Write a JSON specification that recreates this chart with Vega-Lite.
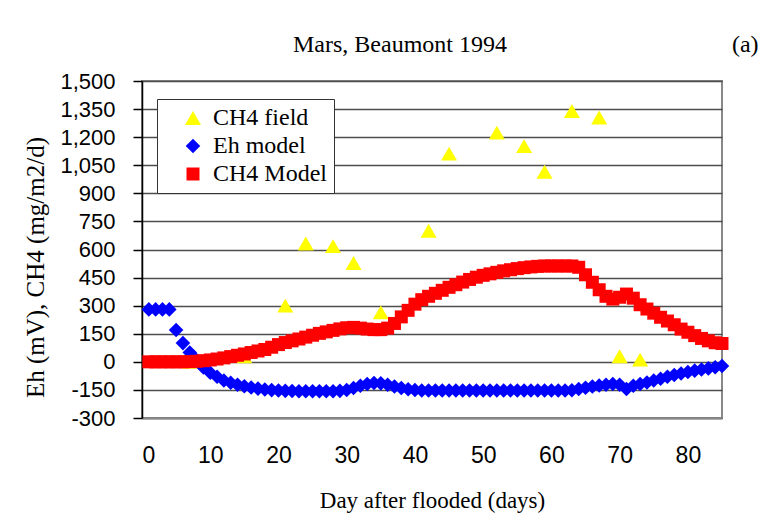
{
  "$schema": "https://vega.github.io/schema/vega-lite/v6.json",
  "width": 580,
  "height": 337,
  "autosize": {"type": "none"},
  "padding": {"left": 142, "top": 81, "right": 61, "bottom": 101},
  "background": "white",
  "title": {"text": "Mars, Beaumont 1994", "font": "Liberation Serif", "fontSize": 24, "fontWeight": "normal", "color": "black", "anchor": "middle", "frame": "group", "dx": -32, "offset": -24},
  "config": {
    "view": {"stroke": "#888888", "strokeWidth": 2},
    "axisX": {
      "grid": false, "ticks": false, "tickSize": 0,
      "labelPadding": 26, "labelFont": "Liberation Sans", "labelFontSize": 23, "labelColor": "black",
      "domainColor": "#888888", "domainWidth": 2,
      "titleFont": "Liberation Serif", "titleFontSize": 23, "titleFontWeight": "normal", "titleColor": "black", "titlePadding": 22
    },
    "axisY": {
      "grid": true, "gridColor": "#4d4d4d", "gridWidth": 1.5,
      "tickSize": 9, "tickColor": "black", "tickWidth": 1.5,
      "domainColor": "black", "domainWidth": 1.5, "labelOverlap": false,
      "labelPadding": 18, "labelFont": "Liberation Sans", "labelFontSize": 22, "labelColor": "black",
      "titleFont": "Liberation Serif", "titleFontSize": 25, "titleFontWeight": "normal", "titleColor": "black", "titlePadding": 11
    }
  },
  "layer": [
    {
      "data": {"values": [
        {"series": "CH4 field", "day": 7, "value": 0},
        {"series": "CH4 field", "day": 15, "value": 30},
        {"series": "CH4 field", "day": 21, "value": 300},
        {"series": "CH4 field", "day": 24, "value": 632},
        {"series": "CH4 field", "day": 28, "value": 618},
        {"series": "CH4 field", "day": 31, "value": 528},
        {"series": "CH4 field", "day": 35, "value": 264},
        {"series": "CH4 field", "day": 42, "value": 700},
        {"series": "CH4 field", "day": 45, "value": 1112},
        {"series": "CH4 field", "day": 52, "value": 1224},
        {"series": "CH4 field", "day": 56, "value": 1152},
        {"series": "CH4 field", "day": 59, "value": 1015},
        {"series": "CH4 field", "day": 63, "value": 1340},
        {"series": "CH4 field", "day": 67, "value": 1305},
        {"series": "CH4 field", "day": 70, "value": 30},
        {"series": "CH4 field", "day": 73, "value": 12},
        {"series": "Eh model", "day": 1, "value": 280},
        {"series": "Eh model", "day": 2, "value": 280},
        {"series": "Eh model", "day": 3, "value": 280},
        {"series": "Eh model", "day": 4, "value": 280},
        {"series": "Eh model", "day": 5, "value": 170},
        {"series": "Eh model", "day": 6, "value": 100},
        {"series": "Eh model", "day": 7, "value": 50},
        {"series": "Eh model", "day": 8, "value": 10},
        {"series": "Eh model", "day": 9, "value": -30},
        {"series": "Eh model", "day": 10, "value": -58},
        {"series": "Eh model", "day": 11, "value": -80},
        {"series": "Eh model", "day": 12, "value": -100},
        {"series": "Eh model", "day": 13, "value": -112},
        {"series": "Eh model", "day": 14, "value": -122},
        {"series": "Eh model", "day": 15, "value": -130},
        {"series": "Eh model", "day": 16, "value": -137},
        {"series": "Eh model", "day": 17, "value": -143},
        {"series": "Eh model", "day": 18, "value": -148},
        {"series": "Eh model", "day": 19, "value": -151},
        {"series": "Eh model", "day": 20, "value": -153},
        {"series": "Eh model", "day": 21, "value": -155},
        {"series": "Eh model", "day": 22, "value": -156},
        {"series": "Eh model", "day": 23, "value": -157},
        {"series": "Eh model", "day": 24, "value": -157},
        {"series": "Eh model", "day": 25, "value": -157},
        {"series": "Eh model", "day": 26, "value": -157},
        {"series": "Eh model", "day": 27, "value": -157},
        {"series": "Eh model", "day": 28, "value": -157},
        {"series": "Eh model", "day": 29, "value": -155},
        {"series": "Eh model", "day": 30, "value": -150},
        {"series": "Eh model", "day": 31, "value": -140},
        {"series": "Eh model", "day": 32, "value": -128},
        {"series": "Eh model", "day": 33, "value": -118},
        {"series": "Eh model", "day": 34, "value": -113},
        {"series": "Eh model", "day": 35, "value": -115},
        {"series": "Eh model", "day": 36, "value": -122},
        {"series": "Eh model", "day": 37, "value": -132},
        {"series": "Eh model", "day": 38, "value": -140},
        {"series": "Eh model", "day": 39, "value": -146},
        {"series": "Eh model", "day": 40, "value": -150},
        {"series": "Eh model", "day": 41, "value": -153},
        {"series": "Eh model", "day": 42, "value": -153},
        {"series": "Eh model", "day": 43, "value": -153},
        {"series": "Eh model", "day": 44, "value": -153},
        {"series": "Eh model", "day": 45, "value": -153},
        {"series": "Eh model", "day": 46, "value": -153},
        {"series": "Eh model", "day": 47, "value": -153},
        {"series": "Eh model", "day": 48, "value": -153},
        {"series": "Eh model", "day": 49, "value": -153},
        {"series": "Eh model", "day": 50, "value": -153},
        {"series": "Eh model", "day": 51, "value": -153},
        {"series": "Eh model", "day": 52, "value": -153},
        {"series": "Eh model", "day": 53, "value": -153},
        {"series": "Eh model", "day": 54, "value": -153},
        {"series": "Eh model", "day": 55, "value": -153},
        {"series": "Eh model", "day": 56, "value": -153},
        {"series": "Eh model", "day": 57, "value": -153},
        {"series": "Eh model", "day": 58, "value": -153},
        {"series": "Eh model", "day": 59, "value": -153},
        {"series": "Eh model", "day": 60, "value": -153},
        {"series": "Eh model", "day": 61, "value": -153},
        {"series": "Eh model", "day": 62, "value": -153},
        {"series": "Eh model", "day": 63, "value": -152},
        {"series": "Eh model", "day": 64, "value": -145},
        {"series": "Eh model", "day": 65, "value": -138},
        {"series": "Eh model", "day": 66, "value": -132},
        {"series": "Eh model", "day": 67, "value": -126},
        {"series": "Eh model", "day": 68, "value": -122},
        {"series": "Eh model", "day": 69, "value": -118},
        {"series": "Eh model", "day": 70, "value": -122},
        {"series": "Eh model", "day": 71, "value": -145},
        {"series": "Eh model", "day": 72, "value": -128},
        {"series": "Eh model", "day": 73, "value": -118},
        {"series": "Eh model", "day": 74, "value": -110},
        {"series": "Eh model", "day": 75, "value": -100},
        {"series": "Eh model", "day": 76, "value": -90},
        {"series": "Eh model", "day": 77, "value": -80},
        {"series": "Eh model", "day": 78, "value": -70},
        {"series": "Eh model", "day": 79, "value": -62},
        {"series": "Eh model", "day": 80, "value": -54},
        {"series": "Eh model", "day": 81, "value": -47},
        {"series": "Eh model", "day": 82, "value": -41},
        {"series": "Eh model", "day": 83, "value": -35},
        {"series": "Eh model", "day": 84, "value": -29},
        {"series": "Eh model", "day": 85, "value": -22},
        {"series": "CH4 Model", "day": 1, "value": 0},
        {"series": "CH4 Model", "day": 2, "value": 0},
        {"series": "CH4 Model", "day": 3, "value": 0},
        {"series": "CH4 Model", "day": 4, "value": 0},
        {"series": "CH4 Model", "day": 5, "value": 0},
        {"series": "CH4 Model", "day": 6, "value": 0},
        {"series": "CH4 Model", "day": 7, "value": 1},
        {"series": "CH4 Model", "day": 8, "value": 3},
        {"series": "CH4 Model", "day": 9, "value": 6},
        {"series": "CH4 Model", "day": 10, "value": 10},
        {"series": "CH4 Model", "day": 11, "value": 15},
        {"series": "CH4 Model", "day": 12, "value": 21},
        {"series": "CH4 Model", "day": 13, "value": 28},
        {"series": "CH4 Model", "day": 14, "value": 35},
        {"series": "CH4 Model", "day": 15, "value": 42},
        {"series": "CH4 Model", "day": 16, "value": 50},
        {"series": "CH4 Model", "day": 17, "value": 58},
        {"series": "CH4 Model", "day": 18, "value": 66},
        {"series": "CH4 Model", "day": 19, "value": 78},
        {"series": "CH4 Model", "day": 20, "value": 92},
        {"series": "CH4 Model", "day": 21, "value": 103},
        {"series": "CH4 Model", "day": 22, "value": 112},
        {"series": "CH4 Model", "day": 23, "value": 122},
        {"series": "CH4 Model", "day": 24, "value": 132},
        {"series": "CH4 Model", "day": 25, "value": 142},
        {"series": "CH4 Model", "day": 26, "value": 152},
        {"series": "CH4 Model", "day": 27, "value": 160},
        {"series": "CH4 Model", "day": 28, "value": 168},
        {"series": "CH4 Model", "day": 29, "value": 176},
        {"series": "CH4 Model", "day": 30, "value": 182},
        {"series": "CH4 Model", "day": 31, "value": 184},
        {"series": "CH4 Model", "day": 32, "value": 180},
        {"series": "CH4 Model", "day": 33, "value": 175},
        {"series": "CH4 Model", "day": 34, "value": 172},
        {"series": "CH4 Model", "day": 35, "value": 172},
        {"series": "CH4 Model", "day": 36, "value": 180},
        {"series": "CH4 Model", "day": 37, "value": 205},
        {"series": "CH4 Model", "day": 38, "value": 240},
        {"series": "CH4 Model", "day": 39, "value": 275},
        {"series": "CH4 Model", "day": 40, "value": 308},
        {"series": "CH4 Model", "day": 41, "value": 332},
        {"series": "CH4 Model", "day": 42, "value": 350},
        {"series": "CH4 Model", "day": 43, "value": 366},
        {"series": "CH4 Model", "day": 44, "value": 382},
        {"series": "CH4 Model", "day": 45, "value": 398},
        {"series": "CH4 Model", "day": 46, "value": 412},
        {"series": "CH4 Model", "day": 47, "value": 426},
        {"series": "CH4 Model", "day": 48, "value": 440},
        {"series": "CH4 Model", "day": 49, "value": 452},
        {"series": "CH4 Model", "day": 50, "value": 462},
        {"series": "CH4 Model", "day": 51, "value": 470},
        {"series": "CH4 Model", "day": 52, "value": 478},
        {"series": "CH4 Model", "day": 53, "value": 486},
        {"series": "CH4 Model", "day": 54, "value": 492},
        {"series": "CH4 Model", "day": 55, "value": 498},
        {"series": "CH4 Model", "day": 56, "value": 503},
        {"series": "CH4 Model", "day": 57, "value": 507},
        {"series": "CH4 Model", "day": 58, "value": 510},
        {"series": "CH4 Model", "day": 59, "value": 512},
        {"series": "CH4 Model", "day": 60, "value": 512},
        {"series": "CH4 Model", "day": 61, "value": 512},
        {"series": "CH4 Model", "day": 62, "value": 512},
        {"series": "CH4 Model", "day": 63, "value": 512},
        {"series": "CH4 Model", "day": 64, "value": 505},
        {"series": "CH4 Model", "day": 65, "value": 465},
        {"series": "CH4 Model", "day": 66, "value": 425},
        {"series": "CH4 Model", "day": 67, "value": 385},
        {"series": "CH4 Model", "day": 68, "value": 350},
        {"series": "CH4 Model", "day": 69, "value": 335},
        {"series": "CH4 Model", "day": 70, "value": 345},
        {"series": "CH4 Model", "day": 71, "value": 362},
        {"series": "CH4 Model", "day": 72, "value": 340},
        {"series": "CH4 Model", "day": 73, "value": 305},
        {"series": "CH4 Model", "day": 74, "value": 282},
        {"series": "CH4 Model", "day": 75, "value": 260},
        {"series": "CH4 Model", "day": 76, "value": 238},
        {"series": "CH4 Model", "day": 77, "value": 218},
        {"series": "CH4 Model", "day": 78, "value": 198},
        {"series": "CH4 Model", "day": 79, "value": 175},
        {"series": "CH4 Model", "day": 80, "value": 158},
        {"series": "CH4 Model", "day": 81, "value": 140},
        {"series": "CH4 Model", "day": 82, "value": 125},
        {"series": "CH4 Model", "day": 83, "value": 112},
        {"series": "CH4 Model", "day": 84, "value": 102},
        {"series": "CH4 Model", "day": 85, "value": 98}
      ]},
      "mark": {"type": "point", "filled": true, "opacity": 1, "strokeWidth": 0},
      "encoding": {
        "x": {
          "field": "day", "type": "quantitative",
          "scale": {"domain": [0, 85], "nice": false, "zero": false},
          "axis": {"title": "Day after flooded (days)", "values": [0, 10, 20, 30, 40, 50, 60, 70, 80], "format": "d"}
        },
        "y": {
          "field": "value", "type": "quantitative",
          "scale": {"domain": [-300, 1500], "nice": false, "zero": false},
          "axis": {
            "title": "Eh (mV), CH4 (mg/m2/d)",
            "values": [-300, -150, 0, 150, 300, 450, 600, 750, 900, 1050, 1200, 1350, 1500],
            "format": ",d", "labelExpr": "replace(datum.label, '\u2212', '-')", "titleY": 186
          }
        },
        "color": {
          "field": "series", "type": "nominal",
          "scale": {"domain": ["CH4 field", "Eh model", "CH4 Model"], "range": ["#FFFF00", "#0000FF", "#FF0000"]},
          "legend": {
            "orient": "none", "legendX": 15, "legendY": 18, "title": null,
            "padding": 7, "symbolOffset": 17, "labelOffset": 8, "rowPadding": 4,
            "labelFont": "Liberation Serif", "labelFontSize": 24, "labelColor": "black",
            "fillColor": "white", "strokeColor": "#333333", "symbolSize": 200, "symbolStrokeWidth": 0
          }
        },
        "shape": {
          "field": "series", "type": "nominal",
          "scale": {"domain": ["CH4 field", "Eh model", "CH4 Model"], "range": ["triangle-up", "diamond", "square"]}
        },
        "size": {
          "field": "series", "type": "nominal",
          "scale": {"domain": ["CH4 field", "Eh model", "CH4 Model"], "range": [256, 169, 196]},
          "legend": null
        }
      }
    },
    {
      "data": {"values": [{"label": "(a)"}]},
      "mark": {"type": "text", "font": "Liberation Serif", "fontSize": 24, "align": "center", "baseline": "middle", "color": "black"},
      "encoding": {
        "x": {
          "datum": 88.4, "type": "quantitative",
          "axis": {"title": "Day after flooded (days)", "values": [0, 10, 20, 30, 40, 50, 60, 70, 80], "format": "d"}
        },
        "y": {
          "datum": 1692, "type": "quantitative",
          "axis": {
            "title": "Eh (mV), CH4 (mg/m2/d)",
            "values": [-300, -150, 0, 150, 300, 450, 600, 750, 900, 1050, 1200, 1350, 1500],
            "format": ",d", "labelExpr": "replace(datum.label, '\u2212', '-')", "titleY": 186
          }
        },
        "text": {"field": "label"}
      }
    }
  ]
}
